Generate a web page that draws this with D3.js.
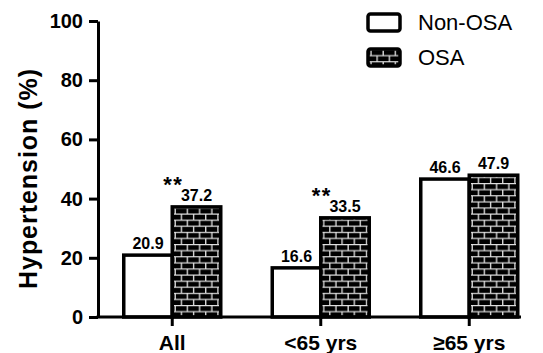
<!DOCTYPE html>
<html>
<head>
<meta charset="utf-8">
<script src="https://cdn.jsdelivr.net/npm/d3@7"></script>
<style>
  html, body { margin: 0; padding: 0; background: #fff; }
  svg { display: block; font-family: "Liberation Sans", Arial, sans-serif; }
</style>
</head>
<body>
<div id="chart"></div>
<script>
const categories = ["All", "<65 yrs", "\u226565 yrs"];
const series = ["Non-OSA", "OSA"];
const nonOsa = [20.9, 16.6, 46.6];
const osa = [37.2, 33.5, 47.9];
const stars = ["**", "**", ""];
const yTicks = [0, 20, 40, 60, 80, 100];

const width = 543, height = 353;

const svg = d3.select("#chart").append("svg")
  .attr("width", width)
  .attr("height", height);

// brick pattern for OSA bars
const defs = svg.append("defs");
const pat = defs.append("pattern")
  .attr("id", "brick")
  .attr("patternUnits", "userSpaceOnUse")
  .attr("width", 12.2)
  .attr("height", 12.2);
pat.append("rect").attr("width", 12.2).attr("height", 12.2).attr("fill", "#000");
pat.append("path")
  .attr("d", "M0,0.6H12.2M0,6.7H12.2M3,0V6.1M9.1,6.1V12.2")
  .attr("stroke", "#e4e4e4")
  .attr("stroke-width", 1.3)
  .attr("fill", "none");

const y = d3.scaleLinear().domain([0, 100]).range([317, 21]);
const x = d3.scaleBand().domain(categories).range([98, 543.5]);
const xs = d3.scaleBand().domain(series).range([-48.5, 48.5]);

const rows = categories.map((c, i) => ({ cat: c, vals: [nonOsa[i], osa[i]], star: stars[i] }));

// bars
rows.forEach(r => {
  const cx = x(r.cat) + x.bandwidth() / 2;
  const g = svg.append("g").attr("transform", `translate(${cx},0)`);
  series.forEach((s, j) => {
    const v = r.vals[j];
    g.append("rect")
      .attr("x", xs(s))
      .attr("y", y(v))
      .attr("width", xs.bandwidth())
      .attr("height", y(0) - y(v))
      .attr("fill", j === 0 ? "#fff" : "url(#brick)")
      .attr("stroke", "#000")
      .attr("stroke-width", 3.5);
    g.append("text")
      .attr("x", xs(s) + xs.bandwidth() / 2)
      .attr("y", y(v) - 6)
      .attr("text-anchor", "middle")
      .style("font-size", "16px")
      .style("font-weight", "bold")
      .text(v.toFixed(1));
  });
  if (r.star) {
    g.append("text")
      .attr("x", 1)
      .attr("y", y(d3.max(r.vals)) - 15)
      .attr("text-anchor", "middle")
      .style("font-size", "22px")
      .style("font-weight", "bold")
      .style("letter-spacing", "1.5px")
      .text(r.star);
  }
});

// y axis
const yAxis = svg.append("g")
  .attr("transform", "translate(98,0)")
  .call(d3.axisLeft(y).tickValues(yTicks).tickSize(9).tickPadding(6).tickSizeOuter(0));
yAxis.select(".domain").attr("stroke-width", 3);
yAxis.selectAll(".tick line").attr("stroke-width", 3);
yAxis.selectAll(".tick text")
  .style("font-size", "20px")
  .style("font-weight", "bold")
  .attr("fill", "#000");

// x axis
const xAxis = svg.append("g")
  .attr("transform", "translate(0,317)")
  .call(d3.axisBottom(x).tickSize(9).tickPadding(9).tickSizeOuter(0));
xAxis.select(".domain").remove();
xAxis.append("line")
  .attr("x1", 96.5).attr("x2", 521)
  .attr("stroke", "#000").attr("stroke-width", 3);
xAxis.selectAll(".tick line").attr("stroke-width", 3);
xAxis.selectAll(".tick text")
  .style("font-size", "21px")
  .style("font-weight", "bold")
  .attr("fill", "#000");

// y title
svg.append("text")
  .attr("transform", "translate(37,179) rotate(-90)")
  .attr("text-anchor", "middle")
  .attr("textLength", 220)
  .attr("lengthAdjust", "spacing")
  .style("font-size", "25px")
  .style("font-weight", "bold")
  .text("Hypertension (%)");

// legend
const legend = svg.append("g").attr("transform", "translate(368,14)");
series.forEach((s, j) => {
  const lg = legend.append("g").attr("transform", `translate(0,${j * 35})`);
  lg.append("rect")
    .attr("width", 32).attr("height", 17)
    .attr("rx", 2.5)
    .attr("fill", j === 0 ? "#fff" : "url(#brick)")
    .attr("stroke", "#000")
    .attr("stroke-width", 3.5);
  lg.append("text")
    .attr("x", 50)
    .attr("y", 16)
    .style("font-size", "22px")
    .text(s);
});
</script>
</body>
</html>
